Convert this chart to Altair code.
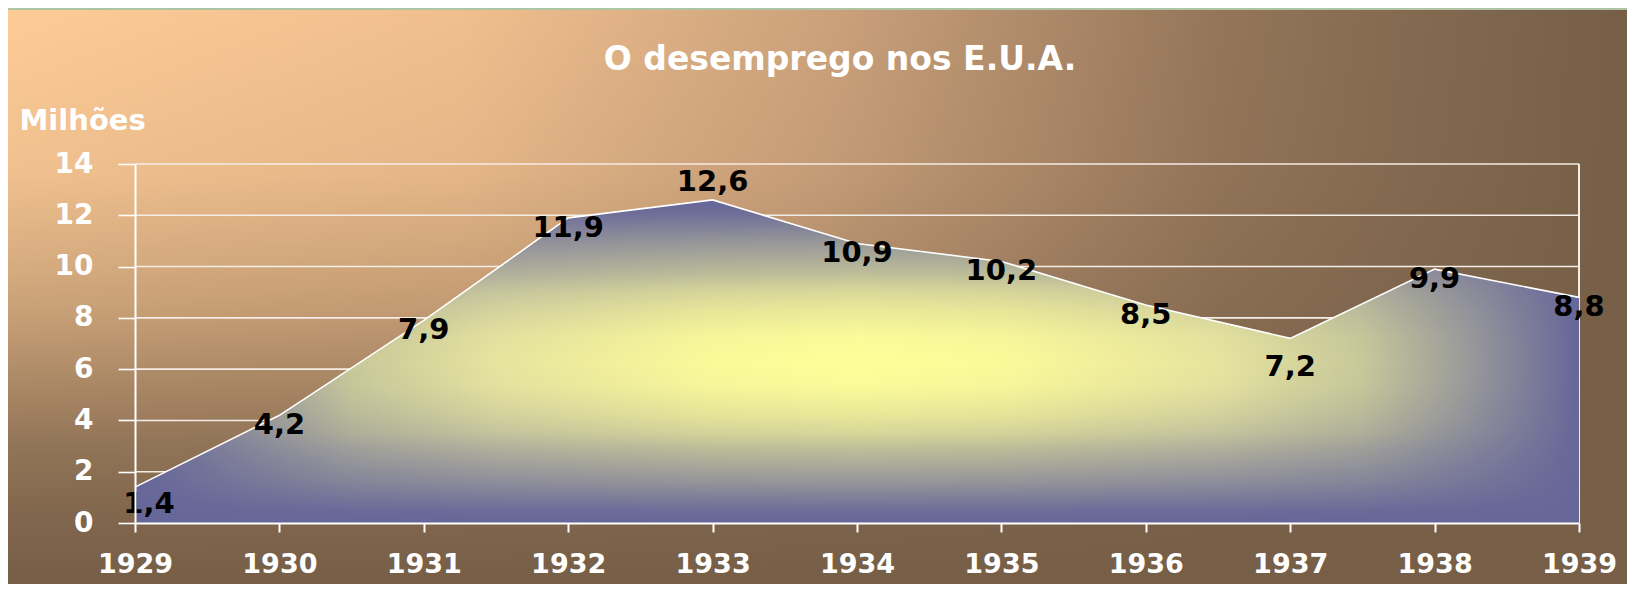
import altair as alt
import pandas as pd

# ---- data ----
anos = [1929, 1930, 1931, 1932, 1933, 1934, 1935, 1936, 1937, 1938, 1939]
desemprego = [1.4, 4.2, 7.9, 11.9, 12.6, 10.9, 10.2, 8.5, 7.2, 9.9, 8.8]
y_ticks = [0, 2, 4, 6, 8, 10, 12, 14]

titulo = "O desemprego nos E.U.A."
titulo_y = "Milhões"

df = pd.DataFrame({"ano": anos, "desemprego": desemprego})
grid_df = pd.DataFrame({"desemprego": y_ticks})
edge_df = pd.DataFrame({"ano": [anos[-1]]})

W, H = 1444, 359
PAD = {"left": 127, "top": 156, "right": 48, "bottom": 61}
FONT = "DejaVu Sans"

xscale = alt.Scale(domain=[anos[0], anos[-1]], nice=False, zero=False)
yscale = alt.Scale(domain=[y_ticks[0], y_ticks[-1]], nice=False)


def stops(pairs):
    return [alt.GradientStop(offset=o, color=c) for o, c in pairs]


# background: horizontal peach -> brown, plus a vertical brown overlay
bg_h = alt.Gradient(gradient="linear", x1=0, y1=0, x2=1, y2=0, stops=stops([
    (0.0, "#FDCB96"), (0.28, "#F0BF8E"), (0.51, "#CBA17B"),
    (0.75, "#947559"), (0.87, "#836950"), (1.0, "#765E47"),
]))
BR = "118,94,71"
bg_v = alt.Gradient(gradient="linear", x1=0, y1=0, x2=0, y2=1, stops=stops([
    (0.0, f"rgba({BR},0)"), (0.29, f"rgba({BR},0.10)"), (0.52, f"rgba({BR},0.38)"),
    (0.75, f"rgba({BR},0.78)"), (0.88, f"rgba({BR},0.92)"), (1.0, f"rgba({BR},1)"),
]))

# area: horizontal blue -> yellow -> blue, plus a vertical blue overlay
area_h = alt.Gradient(gradient="linear", x1=0, y1=0, x2=1, y2=0, stops=stops([
    (0.0, "#666699"), (0.08, "#9C9C9A"), (0.15, "#C8C89A"), (0.25, "#E6E49E"),
    (0.4, "#FBFA99"), (0.5, "#FFFF99"), (0.6, "#FBFA99"), (0.75, "#E6E49E"),
    (0.85, "#C8C89A"), (0.92, "#9C9C9A"), (1.0, "#666699"),
]))
BL = "102,102,153"
area_v = alt.Gradient(gradient="linear", x1=0, y1=0, x2=0, y2=1, stops=stops([
    (0.0, f"rgba({BL},1)"), (0.04, f"rgba({BL},0.95)"), (0.13, f"rgba({BL},0.68)"),
    (0.23, f"rgba({BL},0.42)"), (0.28, f"rgba({BL},0.26)"), (0.34, f"rgba({BL},0.14)"),
    (0.42, f"rgba({BL},0.03)"), (0.5, f"rgba({BL},0)"), (0.58, f"rgba({BL},0.03)"),
    (0.66, f"rgba({BL},0.14)"), (0.72, f"rgba({BL},0.26)"), (0.77, f"rgba({BL},0.42)"),
    (0.87, f"rgba({BL},0.68)"), (0.96, f"rgba({BL},0.95)"), (1.0, f"rgba({BL},1)"),
]))

x_axis = alt.Axis(
    values=anos, format="d", title=None, grid=False, zindex=1,
    domainColor="white", domainWidth=2, tickColor="white", tickWidth=2, tickSize=9,
    labelColor="white", labelFont=FONT, labelFontSize=27, labelFontWeight="bold",
    labelPadding=19, labelOverlap=False, labelFlush=False,
)
y_axis = alt.Axis(
    values=y_ticks, title=titulo_y, grid=False, zindex=1,
    domainColor="white", domainWidth=2, tickColor="white", tickWidth=1.6, tickSize=17,
    labelColor="white", labelFont=FONT, labelFontSize=28, labelFontWeight="bold",
    labelPadding=25, labelBaseline="middle",
    titleAngle=0, titleAlign="left", titleBaseline="alphabetic",
    titleX=-116, titleY=-35, titleColor="white", titleFont=FONT,
    titleFontSize=29, titleFontWeight="bold",
)

X = alt.X("ano:Q", scale=xscale, axis=x_axis)
Y = alt.Y("desemprego:Q", scale=yscale, axis=y_axis)

bg_enc = dict(
    x=alt.value(-PAD["left"]),
    x2=alt.value(W + PAD["right"]),
    y=alt.value(-PAD["top"] + 2),
    y2=alt.value(H + PAD["bottom"]),
)
background = alt.Chart(alt.Data(values=[{}])).mark_rect(color=bg_h, strokeWidth=0).encode(**bg_enc)
background2 = alt.Chart(alt.Data(values=[{}])).mark_rect(color=bg_v, strokeWidth=0).encode(**bg_enc)

grid = alt.Chart(grid_df).mark_rule(color="#F4EDE5", strokeWidth=1.6).encode(y=Y)
edge = alt.Chart(edge_df).mark_rule(color="#F4EDE5", strokeWidth=2).encode(x=X)

area = alt.Chart(df).mark_area(color=area_h, opacity=1, fillOpacity=1).encode(x=X, y=Y)
area2 = alt.Chart(df).mark_area(
    color=area_v, opacity=1, fillOpacity=1,
    line={"color": "white", "strokeWidth": 1.6},
).encode(x=X, y=Y)

labels_base = alt.Chart(df).transform_window(
    prev="lag(desemprego)", nxt="lead(desemprego)", sort=[alt.SortField("ano")]
).transform_joinaggregate(
    maxv="max(desemprego)"
).transform_calculate(
    pos="datum.prev == null ? 'inicio' : (datum.desemprego == datum.maxv ? 'acima' : "
        "((datum.nxt != null && datum.desemprego < datum.prev "
        "&& datum.desemprego < datum.nxt) ? 'abaixo' : 'centro'))",
    rotulo="replace(format(datum.desemprego, '.1f'), '.', ',')",
).encode(x=X, y=Y, text="rotulo:N")

txt = dict(font=FONT, fontSize=29, fontWeight="bold", color="black",
           align="center", baseline="middle")
lab_center = labels_base.transform_filter("datum.pos == 'centro'").mark_text(dy=10, **txt)
lab_start = labels_base.transform_filter("datum.pos == 'inicio'").mark_text(dx=14, dy=17, **txt)
lab_above = labels_base.transform_filter("datum.pos == 'acima'").mark_text(dy=-18, **txt)
lab_below = labels_base.transform_filter("datum.pos == 'abaixo'").mark_text(dy=29, **txt)

chart = alt.layer(
    background, background2, grid, edge, area, area2,
    lab_center, lab_start, lab_above, lab_below
).properties(
    width=W,
    height=H,
    padding=PAD,
    autosize=alt.AutoSizeParams(type="none"),
    background="#ADC5A4",
    title=alt.TitleParams(
        text=titulo, anchor="middle", frame="group", dx=-17, offset=-93,
        baseline="alphabetic", color="white", font=FONT, fontSize=33,
        fontWeight="bold",
    ),
).configure_view(stroke=None)

chart.save("out.html", embed_options={"renderer": "svg", "actions": False})
